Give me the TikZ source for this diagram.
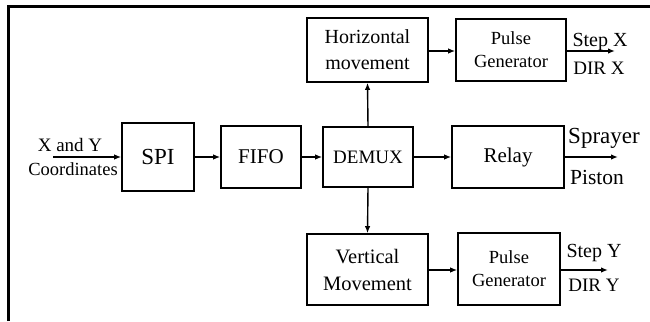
\documentclass[tikz,border=0pt]{standalone}
\usepackage{fontspec}
\setmainfont{Liberation Serif}
\usetikzlibrary{arrows.meta}
\tikzset{
  blk/.style={draw, line width=1.6pt, inner sep=0pt, align=center, font=\fontsize{20}{26}\selectfont},
  lbl/.style={inner sep=0pt, font=\fontsize{20}{24}\selectfont},
  conn/.style={line width=1.4pt, -{Latex[length=7pt,width=5.5pt]}},
  frame/.style={line width=2.6pt}
}
\begin{document}
\begin{tikzpicture}[x=1pt,y=-1pt]
\useasboundingbox (0,0) rectangle (650,321);
\draw[frame] (8.5,321) -- (8.5,6.7) -- (650,6.7);
% blocks
\node[blk, minimum width=121pt, minimum height=64pt] (hm) at (367.5,50) {Horizontal\\movement};
\node[blk, minimum width=110pt, minimum height=62pt, font=\fontsize{18.5}{23}\selectfont] (pg1) at (511,50) {Pulse\\Generator};
\node[blk, minimum width=72pt, minimum height=68pt, font=\fontsize{23}{26}\selectfont] (spi) at (158,157) {SPI};
\node[blk, minimum width=80pt, minimum height=62pt, font=\fontsize{21}{26}\selectfont] (fifo) at (261,157) {FIFO};
\node[blk, minimum width=90pt, minimum height=60pt, font=\fontsize{19}{26}\selectfont] (demux) at (368,157) {DEMUX};
\node[blk, minimum width=112pt, minimum height=62pt, font=\fontsize{21}{26}\selectfont] (relay) at (508,157) {Relay};
\node[blk, minimum width=121pt, minimum height=71pt, font=\fontsize{20.5}{27}\selectfont] (vm) at (367.5,269.5) {Vertical\\Movement};
\node[blk, minimum width=102pt, minimum height=72pt, font=\fontsize{18.5}{23}\selectfont] (pg2) at (509,269) {Pulse\\Generator};
% free ends
\coordinate (in) at (53,157);
\coordinate (outx) at (615,51);
\coordinate (outr) at (618,157);
\coordinate (outy) at (608,270);
% labels
\node[lbl, font=\fontsize{19}{22}\selectfont] (xy) at (70,145) {X and Y};
\node[lbl, font=\fontsize{18.5}{22}\selectfont] (coord) at (73,169) {Coordinates};
\node[lbl] (stepx) at (600,42) {Step X};
\node[lbl, font=\fontsize{19}{22}\selectfont] (dirx) at (599,68) {DIR X};
\node[lbl, font=\fontsize{23}{26}\selectfont] (spr) at (604,138) {Sprayer};
\node[lbl, font=\fontsize{21.5}{26}\selectfont] (pis) at (597,177) {Piston};
\node[lbl] (stepy) at (594,253) {Step Y};
\node[lbl, font=\fontsize{19}{22}\selectfont] (diry) at (594,285) {DIR Y};
% connectors
\draw[conn] (in) -- (spi.west);
\draw[conn] (spi) -- (fifo);
\draw[conn] (fifo) -- (demux);
\draw[conn] (demux) -- (relay);
\draw[conn] (demux.north) -- (hm.south);
\draw[conn] (demux.south) -- (vm.north);
\draw[conn] (hm.east |- 0,51) -- (pg1.west |- 0,51);
\draw[conn] (vm.east |- 0,270) -- (pg2.west |- 0,270);
\draw[conn] (pg1.east |- outx) -- (outx);
\draw[conn] (relay.east) -- (outr);
\draw[conn] (pg2.east |- outy) -- (outy);
\end{tikzpicture}
\end{document}
